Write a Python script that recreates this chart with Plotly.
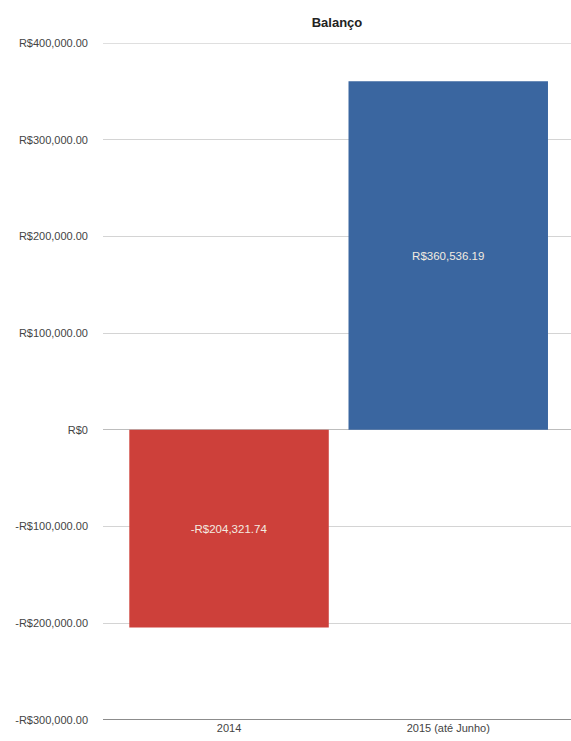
import plotly.graph_objects as go

categories = ["2014", "2015 (até Junho)"]
values = [-204321.74, 360536.19]
value_labels = ["-R$204,321.74", "R$360,536.19"]
bar_colors = ["#cd403a", "#3a66a0"]
tick_vals = [400000, 300000, 200000, 100000, 0, -100000, -200000, -300000]
tick_text = ["R$400,000.00", "R$300,000.00", "R$200,000.00", "R$100,000.00",
             "R$0", "-R$100,000.00", "-R$200,000.00", "-R$300,000.00"]

fig = go.Figure()
fig.add_trace(go.Bar(
    x=[0, 1], y=values, width=0.91,
    marker=dict(color=bar_colors, line=dict(width=0)),
    text=value_labels, textposition="inside", insidetextanchor="middle",
    textfont=dict(color="#f3ece0", size=11.5, family="Liberation Sans"),
))

fig.update_layout(
    width=571, height=741,
    margin=dict(l=103, r=0, t=43, b=21),
    paper_bgcolor="white", plot_bgcolor="white",
    showlegend=False,
    title=dict(text="<b>Balanço</b>", x=0.5, xanchor="center", y=1 - 22/741, yanchor="middle",
               xref="paper",
               font=dict(size=13, color="#222", family="Liberation Sans")),
    font=dict(family="Liberation Sans", size=11, color="#444"),
)
fig.update_xaxes(
    tickvals=[0, 1], ticktext=categories, range=[-0.575, 1.56],
    showgrid=False, zeroline=False, showline=False, ticks="",
    tickfont=dict(size=11, color="#444"),
)
fig.update_yaxes(
    range=[-300000, 400000], tickvals=tick_vals, ticktext=tick_text,
    showgrid=True, gridcolor="#d4d4d4", gridwidth=1,
    zeroline=True, zerolinecolor="#bdbdbd", zerolinewidth=1,
    showline=False, ticks="", ticklabelstandoff=14,
    tickfont=dict(size=11, color="#444"),
)
fig.add_shape(type="line", xref="paper", yref="y", x0=0, x1=1, y0=400000, y1=400000,
              line=dict(color="#d4d4d4", width=1.5), layer="below")
fig.add_shape(type="line", xref="paper", yref="y", x0=0, x1=1, y0=-300000, y1=-300000,
              line=dict(color="#666", width=1.5))
fig.write_html("out.html")
